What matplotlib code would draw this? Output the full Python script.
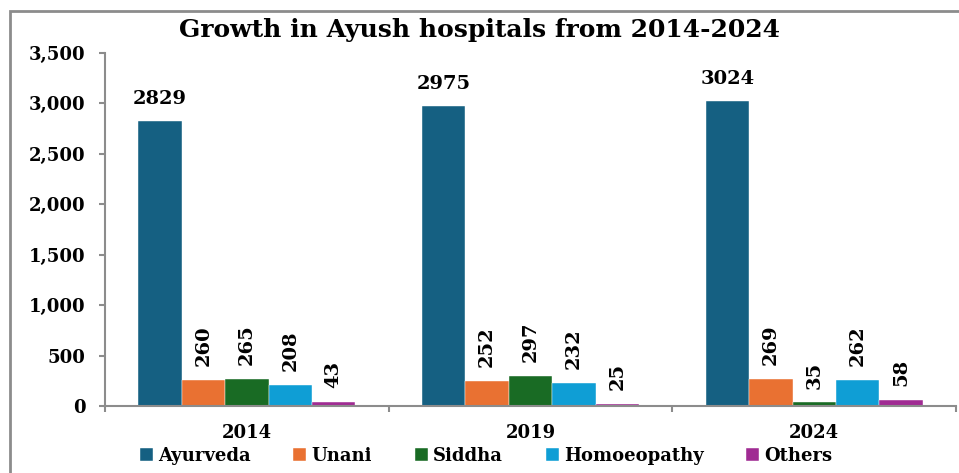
import matplotlib.pyplot as plt
import numpy as np
from matplotlib.patches import Rectangle
from matplotlib.ticker import FuncFormatter

years = ['2014', '2019', '2024']
systems = ['Ayurveda', 'Unani', 'Siddha', 'Homoeopathy', 'Others']
ayurveda = [2829, 2975, 3024]
unani = [260, 252, 269]
siddha = [265, 297, 35]
homoeopathy = [208, 232, 262]
others = [43, 25, 58]
colors = ['#156082', '#E97132', '#196B24', '#0F9ED5', '#A02B93']

plt.rcParams['font.family'] = ['DejaVu Serif']
plt.rcParams['font.weight'] = 'bold'

fig = plt.figure(figsize=(9.59, 4.73), dpi=100)
ax = fig.add_axes([0.1095, 0.1416, 0.8875, 0.7464])

# gray frame round the chart
fig.patches.append(Rectangle((10/959, -0.05), 1.0, 1 - 11/473 + 0.05, transform=fig.transFigure,
                             fill=False, edgecolor='#8c8c8c', linewidth=2))

x = np.arange(len(years))
w = 0.153
series = [ayurveda, unani, siddha, homoeopathy, others]
for i, (name, vals) in enumerate(zip(systems, series)):
    pos = x + (i - 2) * w
    bars = ax.bar(pos, vals, w, color=colors[i], label=name, edgecolor='white', linewidth=0.3)
    for b, v in zip(bars, vals):
        if i == 0:
            ax.annotate(str(v), (b.get_x() + b.get_width()/2, v), xytext=(0, 9),
                        textcoords='offset points', ha='center', va='bottom',
                        fontsize=14, fontweight='bold')
        else:
            ax.annotate(str(v), (b.get_x() + b.get_width()/2, v), xytext=(0, 10),
                        textcoords='offset points', ha='center', va='bottom',
                        rotation=90, fontsize=14, fontweight='bold')

ax.set_xlim(-0.5, 2.5)
ax.set_ylim(0, 3500)
ax.set_yticks(np.arange(0, 3501, 500))
ax.yaxis.set_major_formatter(FuncFormatter(lambda v, p: f'{int(v):,}'))
ax.set_xticks(x)
ax.set_xticklabels(years)
ax.set_xticks([-0.5, 0.5, 1.5, 2.5], minor=True)
ax.tick_params(axis='x', which='major', length=0, pad=13, labelsize=13)
ax.tick_params(axis='x', which='minor', length=4, width=1.5, color='#8c8c8c', direction='out')
ax.tick_params(axis='y', length=4, width=1.5, color='#8c8c8c', pad=10, labelsize=13)

for s in ['top', 'right']:
    ax.spines[s].set_visible(False)
for s in ['left', 'bottom']:
    ax.spines[s].set_color('#8c8c8c')
    ax.spines[s].set_linewidth(1.5)

fig.suptitle('Growth in Ayush hospitals from 2014-2024', x=0.5, y=0.962,
             fontsize=18, fontweight='bold')

ax.legend(loc='center', bbox_to_anchor=(0.448, -0.142), ncol=5, frameon=False,
          fontsize=13, handlelength=0.72, handleheight=0.72, handletextpad=0.3,
          columnspacing=2.35, borderaxespad=0, borderpad=0)

fig.savefig('out.png', dpi=100)
